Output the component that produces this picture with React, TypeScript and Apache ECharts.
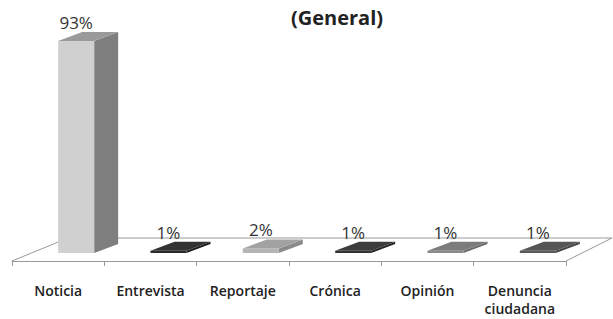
import React, { useEffect, useRef } from "react";
import * as echarts from "echarts";

const categories = ["Noticia", "Entrevista", "Reportaje", "Crónica", "Opinión", "Denuncia\nciudadana"];
const values = [93, 1, 2, 1, 1, 1];
const titleText = "(General)";

const frontColors = ["#d0d0d0", "#2a2a2a", "#b4b4b4", "#333333", "#8a8a8a", "#5a5a5a"];
const sideColors = ["#7e7e7e", "#1e1e1e", "#8a8a8a", "#262626", "#6a6a6a", "#444444"];
const topColors = ["#9a9a9a", "#333333", "#a2a2a2", "#3c3c3c", "#7c7c7c", "#565656"];

export default function App() {
  const ref = useRef<HTMLDivElement>(null);
  useEffect(() => {
    const chart = echarts.init(ref.current!, undefined, { renderer: "svg" });
    const font = "'Open Sans', sans-serif";
    const W = 36, DX = 24, DY = -9, SY = -8;
    chart.setOption({
      animation: false,
      title: {
        text: titleText,
        left: 332,
        top: 2,
        textAlign: "center",
        textStyle: { fontFamily: font, fontSize: 20, fontWeight: "bold", color: "#222" },
      },
      grid: { left: 12, right: 47, top: 33, bottom: 58 },
      xAxis: {
        type: "category",
        data: categories,
        axisLine: { lineStyle: { color: "#999", width: 1 } },
        axisTick: { show: true, length: 5, lineStyle: { color: "#999" } },
        axisLabel: {
          fontFamily: font,
          fontSize: 14,
          fontWeight: 600,
          color: "#222",
          margin: 20,
          lineHeight: 18,
          interval: 0,
        },
      },
      yAxis: { type: "value", min: 0, max: 100, show: false, splitLine: { show: false } },
      graphic: [
        {
          type: "polyline",
          z: 0,
          shape: { points: [[12, 261], [68, 238], [612, 238]] },
          style: { stroke: "#999", lineWidth: 1, fill: null },
        },
        {
          type: "line",
          z: 0,
          shape: { x1: 566, y1: 261, x2: 612, y2: 238 },
          style: { stroke: "#999", lineWidth: 1 },
        },
      ],
      series: [
        {
          type: "custom",
          data: values.map((v, i) => [i, v]),
          renderItem: (params: any, api: any) => {
            const i = api.value(0);
            const v = api.value(1);
            const base = api.coord([i, 0]);
            const tp = api.coord([i, v]);
            const x0 = base[0];
            const x1 = x0 + W;
            const yb = base[1] + SY;
            const yt = tp[1] + SY;
            return {
              type: "group",
              children: [
                {
                  type: "polygon",
                  shape: { points: [[x1, yb], [x1 + DX, yb + DY], [x1 + DX, yt + DY], [x1, yt]] },
                  style: { fill: sideColors[i] },
                },
                {
                  type: "rect",
                  shape: { x: x0, y: yt, width: W, height: Math.max(yb - yt, 1) },
                  style: { fill: frontColors[i] },
                },
                {
                  type: "polygon",
                  shape: { points: [[x0, yt], [x1, yt], [x1 + DX, yt + DY], [x0 + DX, yt + DY]] },
                  style: { fill: topColors[i] },
                },
                {
                  type: "text",
                  x: x0 + W / 2,
                  y: yt + DY - 1,
                  style: {
                    text: v + "%",
                    fontFamily: font,
                    fontSize: 17,
                    fill: "#333",
                    align: "center",
                    verticalAlign: "bottom",
                  },
                },
              ],
            };
          },
        },
      ],
    });
    return () => chart.dispose();
  }, []);
  return <div ref={ref} style={{ position: "absolute", left: 0, top: 0, width: 613, height: 319 }} />;
}
